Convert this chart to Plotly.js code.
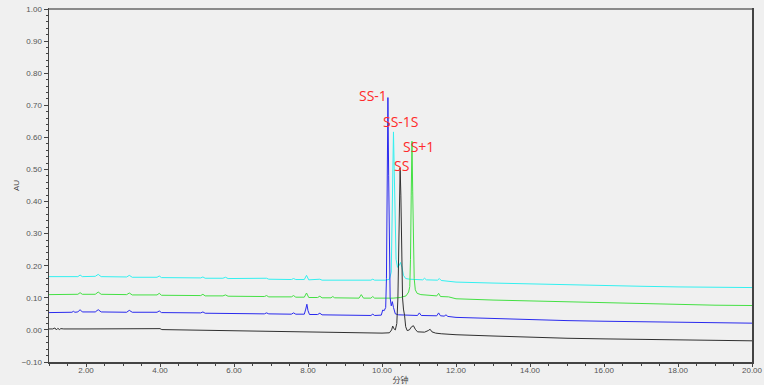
<!DOCTYPE html>
<html>
<head>
<meta charset="utf-8">
<script src="https://cdn.plot.ly/plotly-3.0.1.min.js"></script>
<style>html,body{margin:0;padding:0;background:#f0f0f0;}#chart{width:764px;height:385px;}</style>
</head>
<body>
<div id="chart"></div>
<script>
// SS (black)
const ssT = [1.00,1.10,1.16,1.20,1.24,1.28,1.32,1.40,2.00,3.00,3.40,3.95,4.00,4.05,5.00,6.00,7.00,7.40,8.00,8.50,9.00,9.60,10.00,10.20,10.26,10.29,10.32,10.36,10.40,10.43,10.46,10.49,10.51,10.53,10.555,10.58,10.61,10.64,10.68,10.74,10.80,10.85,10.90,10.96,11.05,11.15,11.25,11.30,11.35,11.45,11.60,12.00,13.00,14.00,15.00,16.00,17.00,18.00,19.00,20.00];
const ssV = [0.003,0.003,0.006,0.000,0.005,0.001,0.004,0.003,0.003,0.003,0.002,0.002,0.004,0.001,-0.001,-0.003,-0.005,-0.006,-0.007,-0.008,-0.009,-0.009,-0.010,-0.009,0.000,0.012,0.004,0.000,0.020,0.100,0.300,0.505,0.420,0.220,0.100,0.065,0.045,0.010,-0.002,0.000,0.010,0.013,0.002,-0.006,-0.006,-0.007,-0.002,0.002,-0.006,-0.010,-0.012,-0.015,-0.019,-0.023,-0.026,-0.028,-0.030,-0.032,-0.033,-0.034];

// SS-1 (blue)
const ss1T = [1.00,1.50,1.62,1.66,1.70,1.78,1.84,1.90,2.25,2.33,2.41,3.10,3.17,3.25,3.92,3.98,4.04,5.10,5.16,5.22,6.00,6.82,6.88,6.94,7.55,7.61,7.67,7.90,7.94,7.97,8.00,8.04,8.26,8.32,8.38,9.00,9.70,9.75,9.80,9.98,10.02,10.06,10.10,10.12,10.14,10.16,10.18,10.20,10.22,10.25,10.28,10.31,10.36,10.45,10.60,10.80,10.96,11.01,11.06,11.48,11.53,11.58,11.68,11.73,11.78,12.00,13.00,14.00,15.00,16.00,17.00,18.00,19.00,20.00];
const ss1V = [0.054,0.055,0.055,0.058,0.055,0.056,0.063,0.056,0.056,0.063,0.056,0.055,0.061,0.055,0.055,0.059,0.054,0.053,0.056,0.052,0.051,0.050,0.053,0.050,0.049,0.053,0.049,0.049,0.065,0.080,0.060,0.048,0.048,0.052,0.047,0.046,0.045,0.049,0.045,0.046,0.062,0.060,0.070,0.160,0.450,0.724,0.480,0.200,0.100,0.075,0.088,0.070,0.050,0.047,0.046,0.045,0.045,0.053,0.045,0.044,0.053,0.044,0.043,0.047,0.042,0.039,0.035,0.032,0.029,0.027,0.025,0.023,0.022,0.021];

// SS-1S (cyan)
const ss1sT = [1.00,1.50,1.78,1.84,1.90,2.25,2.33,2.41,3.10,3.17,3.25,3.92,3.98,4.04,5.10,5.16,5.22,5.70,5.77,5.84,6.82,6.88,6.94,7.55,7.61,7.67,7.90,7.96,8.02,8.26,8.32,8.38,9.00,9.70,9.75,9.80,10.10,10.20,10.25,10.27,10.29,10.31,10.33,10.35,10.38,10.42,10.46,10.50,10.54,10.58,10.64,10.75,11.10,11.15,11.20,11.50,11.55,11.60,11.75,12.00,13.00,14.00,15.00,16.00,17.00,18.00,19.00,20.00];
const ss1sV = [0.166,0.166,0.166,0.171,0.166,0.167,0.173,0.166,0.165,0.170,0.164,0.164,0.168,0.163,0.162,0.165,0.161,0.161,0.164,0.160,0.159,0.161,0.158,0.157,0.160,0.157,0.157,0.170,0.156,0.156,0.158,0.155,0.155,0.155,0.158,0.155,0.155,0.158,0.180,0.300,0.500,0.617,0.500,0.320,0.220,0.195,0.200,0.210,0.195,0.170,0.160,0.158,0.156,0.161,0.156,0.155,0.160,0.154,0.152,0.149,0.146,0.143,0.140,0.138,0.136,0.134,0.133,0.132];

// SS+1 (green)
const ssp1T = [1.00,1.50,1.78,1.84,1.90,2.25,2.33,2.41,3.10,3.17,3.25,3.92,3.98,4.04,5.10,5.16,5.22,5.70,5.77,5.84,6.82,6.88,6.94,7.55,7.61,7.67,7.90,7.96,8.02,8.26,8.32,8.38,8.62,8.67,8.72,9.38,9.44,9.50,9.70,9.75,9.80,10.30,10.50,10.65,10.72,10.75,10.77,10.79,10.81,10.83,10.85,10.87,10.90,10.95,11.05,11.20,11.48,11.53,11.58,11.80,12.00,13.00,14.00,15.00,16.00,17.00,18.00,19.00,20.00];
const ssp1V = [0.110,0.111,0.111,0.116,0.111,0.111,0.118,0.111,0.110,0.115,0.109,0.109,0.114,0.108,0.107,0.111,0.106,0.106,0.109,0.105,0.104,0.107,0.103,0.103,0.107,0.102,0.102,0.115,0.101,0.101,0.105,0.100,0.100,0.104,0.100,0.099,0.110,0.099,0.099,0.104,0.099,0.099,0.101,0.106,0.118,0.135,0.220,0.420,0.588,0.430,0.240,0.160,0.125,0.114,0.110,0.108,0.106,0.114,0.104,0.103,0.097,0.093,0.090,0.087,0.084,0.081,0.079,0.077,0.076];

const peakLabels = ['SS-1','SS-1S','SS+1','SS'];
const labelX = [9.76,10.51,10.99,10.54];
const labelY = [0.731,0.649,0.571,0.511];

const traces = [
  {x: ss1sT, y: ss1sV, mode:'lines', line:{color:'#33f0f0', width:1}, name:'SS-1S'},
  {x: ssp1T, y: ssp1V, mode:'lines', line:{color:'#44e044', width:1}, name:'SS+1'},
  {x: ss1T, y: ss1V, mode:'lines', line:{color:'#2a2aee', width:1}, name:'SS-1'},
  {x: ssT, y: ssV, mode:'lines', line:{color:'#303030', width:1}, name:'SS'}
];

const annotations = peakLabels.map((t,i)=>({
  x: labelX[i], y: labelY[i], xref:'x', yref:'y', text:t, showarrow:false,
  xanchor:'center', yanchor:'middle',
  font:{family:'Open Sans', size:14, color:'#ff2a2a'}
}));

const tickFont = {family:'Liberation Sans, Arial', size:8, color:'#555'};

const layout = {
  width:764, height:385,
  margin:{l:49, r:12, t:9, b:23},
  paper_bgcolor:'#f0f0f0', plot_bgcolor:'#f0f0f0',
  showlegend:false,
  xaxis:{
    range:[1,20], tick0:0, dtick:2, tickformat:'.2f',
    ticks:'outside', ticklen:3, tickcolor:'#444', tickwidth:1,
    ticklabelstandoff:-3,
    showline:true, linecolor:'#444', linewidth:1.5, mirror:true,
    showgrid:false, zeroline:false, tickfont:tickFont,
    minor:{dtick:0.5, ticks:'outside', ticklen:2, tickcolor:'#444', showgrid:false},
    title:{text:'分钟', font:{family:'Noto Sans CJK SC', size:8, color:'#444'}, standoff:1}
  },
  yaxis:{
    range:[-0.1,1.0], tick0:0, dtick:0.1, tickformat:'.2f',
    ticks:'outside', ticklen:4, tickcolor:'#444', tickwidth:1,
    showline:true, linecolor:'#444', linewidth:1.5, mirror:true,
    showgrid:false, zeroline:false, tickfont:tickFont,
    minor:{dtick:0.02, ticks:'outside', ticklen:2, tickcolor:'#444', showgrid:false},
    title:{text:'AU', font:{family:'Liberation Sans, Arial', size:8, color:'#444'}, standoff:1}
  },
  shapes:[{type:'line', xref:'paper', yref:'paper', x0:0, x1:1, y0:1, y1:1, line:{color:'#8a8a8a', width:2}}],
  annotations: annotations
};

Plotly.newPlot('chart', traces, layout, {displayModeBar:false, staticPlot:true});
</script>
</body>
</html>
